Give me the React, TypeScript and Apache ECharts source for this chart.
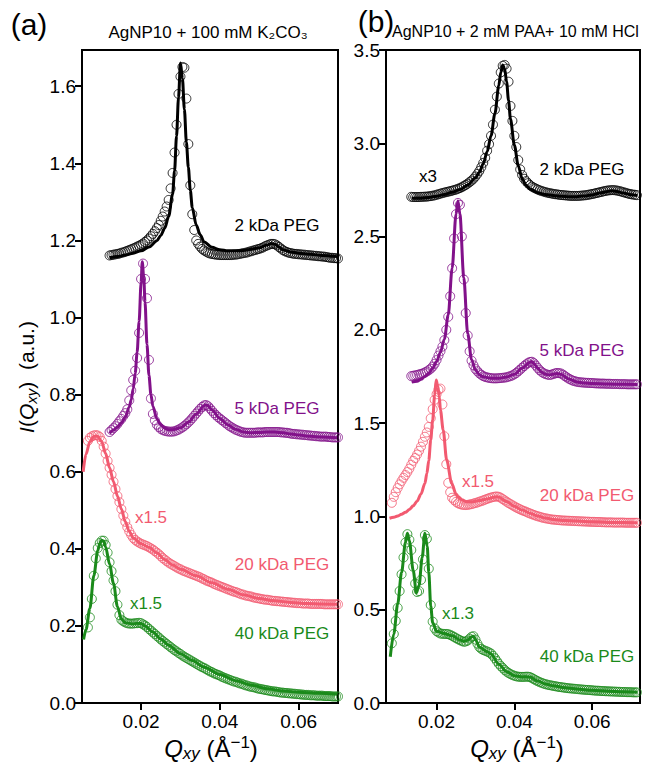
import React, { useEffect, useRef } from "react";
import * as echarts from "echarts";

const FONT = '"Liberation Sans", Arial, Helvetica, sans-serif';

const BLACK = "#000000";
const PURPLE = "#82118a";
const PINK = "#f25a70";
const GREEN = "#1a8a1a";

// Measured intensities are sampled on a uniform Q grid (step 0.0005 Å^-1);
// each series lists its first Q value and the intensities read from the figure.
const Q_STEP = 0.0005;

// ---------- Panel (a) ----------
const aXTicks = [0.02, 0.04, 0.06];
const aYTicks = [0, 0.2, 0.4, 0.6, 0.8, 1.0, 1.2, 1.4, 1.6];

const a2kStart = 0.012;
const a2kValues = [
  1.161, 1.162, 1.163, 1.164, 1.165, 1.166, 1.168, 1.169, 1.171, 1.173, 1.175, 1.177, 1.179, 1.181,
  1.184, 1.186, 1.189, 1.192, 1.196, 1.2, 1.205, 1.211, 1.217, 1.224, 1.232, 1.24, 1.251, 1.262,
  1.275, 1.288, 1.305, 1.335, 1.375, 1.428, 1.5, 1.58, 1.625, 1.65, 1.648, 1.568, 1.45, 1.343,
  1.268, 1.227, 1.2, 1.191, 1.184, 1.178, 1.174, 1.171, 1.168, 1.166, 1.165, 1.164, 1.163, 1.163,
  1.162, 1.162, 1.162, 1.162, 1.162, 1.162, 1.162, 1.163, 1.163, 1.164, 1.165, 1.166, 1.167, 1.168,
  1.169, 1.171, 1.172, 1.174, 1.175, 1.177, 1.178, 1.18, 1.182, 1.185, 1.187, 1.189, 1.191, 1.191,
  1.19, 1.187, 1.183, 1.179, 1.175, 1.172, 1.17, 1.168, 1.167, 1.166, 1.165, 1.165, 1.164, 1.164,
  1.163, 1.163, 1.162, 1.162, 1.161, 1.161, 1.16, 1.16, 1.159, 1.159, 1.158, 1.158, 1.157, 1.156,
  1.155, 1.155, 1.154, 1.154, 1.153,
];
const a2kFit = [
  [0.012, 1.155], [0.014, 1.158], [0.016, 1.162], [0.018, 1.167], [0.02, 1.173], [0.022, 1.183],
  [0.024, 1.199], [0.025, 1.213], [0.026, 1.232], [0.027, 1.262], [0.028, 1.32], [0.0285, 1.38],
  [0.029, 1.47], [0.0295, 1.57], [0.03, 1.66], [0.0305, 1.62], [0.031, 1.54], [0.0315, 1.455],
  [0.032, 1.39], [0.0325, 1.33], [0.033, 1.285], [0.034, 1.24], [0.035, 1.215], [0.036, 1.196],
  [0.038, 1.182], [0.04, 1.176], [0.042, 1.173], [0.044, 1.173], [0.046, 1.174], [0.048, 1.177],
  [0.05, 1.181], [0.052, 1.188], [0.053, 1.192], [0.054, 1.19], [0.055, 1.183], [0.056, 1.176],
  [0.058, 1.17], [0.06, 1.167], [0.063, 1.164], [0.066, 1.161], [0.0698, 1.158],
];

const a5kStart = 0.012;
const a5kValues = [
  0.703, 0.708, 0.713, 0.718, 0.724, 0.731, 0.737, 0.745, 0.752, 0.762, 0.785, 0.811, 0.838, 0.862,
  0.895, 0.96, 1.1, 1.14, 1.1, 1.05, 0.89, 0.79, 0.75, 0.733, 0.722, 0.716, 0.711, 0.708,
  0.706, 0.705, 0.704, 0.704, 0.704, 0.705, 0.707, 0.709, 0.712, 0.715, 0.719, 0.723, 0.728, 0.733,
  0.739, 0.745, 0.751, 0.757, 0.763, 0.768, 0.772, 0.773, 0.77, 0.764, 0.758, 0.752, 0.747, 0.742,
  0.738, 0.734, 0.73, 0.726, 0.722, 0.718, 0.715, 0.712, 0.709, 0.707, 0.705, 0.703, 0.702, 0.701,
  0.701, 0.701, 0.701, 0.701, 0.701, 0.702, 0.702, 0.702, 0.702, 0.703, 0.703, 0.703, 0.703, 0.703,
  0.703, 0.703, 0.703, 0.702, 0.702, 0.701, 0.701, 0.7, 0.699, 0.698, 0.698, 0.697, 0.697, 0.696,
  0.696, 0.695, 0.695, 0.694, 0.694, 0.693, 0.693, 0.692, 0.692, 0.691, 0.691, 0.691, 0.691, 0.69,
  0.69, 0.689, 0.689, 0.689, 0.689,
];
const a5kFit = [
  [0.012, 0.7], [0.013, 0.708], [0.014, 0.716], [0.015, 0.727], [0.016, 0.742], [0.017, 0.768],
  [0.0175, 0.787], [0.018, 0.815], [0.0185, 0.855], [0.019, 0.91], [0.0195, 0.99], [0.02, 1.09],
  [0.0203, 1.145], [0.0207, 1.1], [0.021, 1.04], [0.0215, 0.93], [0.022, 0.85], [0.0225, 0.8],
  [0.023, 0.77], [0.024, 0.737], [0.025, 0.722], [0.026, 0.713], [0.027, 0.709], [0.028, 0.709],
  [0.03, 0.714], [0.032, 0.728], [0.034, 0.75], [0.036, 0.771], [0.0365, 0.774], [0.037, 0.771],
  [0.038, 0.76], [0.04, 0.738], [0.042, 0.722], [0.044, 0.71], [0.046, 0.703], [0.048, 0.701],
  [0.05, 0.702], [0.052, 0.703], [0.054, 0.703], [0.056, 0.701], [0.058, 0.698], [0.06, 0.695],
  [0.063, 0.692], [0.066, 0.69], [0.0698, 0.688],
];

const a20kStart = 0.0065;
const a20kValues = [
  0.68, 0.688, 0.692, 0.694, 0.695, 0.694, 0.69, 0.68, 0.665, 0.647, 0.628, 0.61, 0.592, 0.574,
  0.555, 0.537, 0.521, 0.503, 0.486, 0.47, 0.456, 0.445, 0.436, 0.428, 0.423, 0.419, 0.416, 0.413,
  0.411, 0.409, 0.407, 0.404, 0.401, 0.398, 0.394, 0.39, 0.386, 0.381, 0.376, 0.372, 0.368, 0.364,
  0.361, 0.358, 0.355, 0.352, 0.349, 0.347, 0.344, 0.342, 0.34, 0.338, 0.336, 0.334, 0.332, 0.33,
  0.328, 0.326, 0.323, 0.321, 0.318, 0.316, 0.314, 0.312, 0.309, 0.307, 0.305, 0.303, 0.301, 0.299,
  0.297, 0.295, 0.293, 0.291, 0.289, 0.288, 0.286, 0.284, 0.282, 0.281, 0.279, 0.278, 0.277, 0.276,
  0.274, 0.273, 0.272, 0.271, 0.27, 0.269, 0.268, 0.268, 0.267, 0.266, 0.265, 0.265, 0.264, 0.264,
  0.263, 0.263, 0.262, 0.262, 0.261, 0.261, 0.26, 0.26, 0.259, 0.259, 0.259, 0.258, 0.258, 0.258,
  0.258, 0.257, 0.257, 0.257, 0.257, 0.257, 0.257, 0.257, 0.256, 0.256, 0.256, 0.256, 0.256, 0.256,
  0.256, 0.256,
];
const a20kFit = [
  [0.0053, 0.6], [0.006, 0.645], [0.007, 0.678], [0.008, 0.692], [0.009, 0.692], [0.01, 0.678],
  [0.011, 0.647], [0.012, 0.61], [0.013, 0.574], [0.014, 0.537], [0.015, 0.503], [0.016, 0.47],
  [0.017, 0.445], [0.018, 0.428], [0.02, 0.413], [0.022, 0.404], [0.024, 0.39], [0.026, 0.372],
  [0.028, 0.358], [0.03, 0.347], [0.034, 0.33], [0.038, 0.312], [0.042, 0.295], [0.046, 0.281],
  [0.05, 0.271], [0.054, 0.265], [0.058, 0.261], [0.062, 0.258], [0.066, 0.257], [0.0698, 0.256],
];

const a40kStart = 0.0065;
const a40kValues = [
  0.196, 0.222, 0.27, 0.33, 0.375, 0.402, 0.415, 0.421, 0.421, 0.41, 0.39, 0.365, 0.342, 0.318,
  0.29, 0.255, 0.228, 0.216, 0.212, 0.209, 0.207, 0.206, 0.206, 0.206, 0.207, 0.207, 0.208, 0.207,
  0.204, 0.201, 0.197, 0.192, 0.188, 0.183, 0.179, 0.174, 0.17, 0.165, 0.161, 0.157, 0.153, 0.149,
  0.145, 0.141, 0.137, 0.134, 0.13, 0.127, 0.123, 0.12, 0.117, 0.114, 0.111, 0.108, 0.105, 0.102,
  0.099, 0.096, 0.093, 0.091, 0.088, 0.085, 0.082, 0.08, 0.077, 0.075, 0.073, 0.071, 0.068, 0.066,
  0.064, 0.062, 0.06, 0.058, 0.056, 0.055, 0.053, 0.051, 0.05, 0.048, 0.046, 0.045, 0.043, 0.042,
  0.041, 0.04, 0.038, 0.037, 0.036, 0.035, 0.034, 0.033, 0.032, 0.031, 0.03, 0.03, 0.029, 0.028,
  0.027, 0.027, 0.026, 0.026, 0.025, 0.025, 0.024, 0.024, 0.023, 0.023, 0.022, 0.022, 0.021, 0.021,
  0.021, 0.02, 0.02, 0.02, 0.019, 0.019, 0.019, 0.019, 0.018, 0.018, 0.018, 0.018, 0.017, 0.017,
  0.017, 0.017,
];
const a40kFit = [
  [0.0054, 0.165], [0.006, 0.19], [0.007, 0.245], [0.008, 0.33], [0.009, 0.395], [0.0095, 0.414],
  [0.01, 0.422], [0.0105, 0.42], [0.011, 0.405], [0.012, 0.36], [0.013, 0.31], [0.014, 0.25],
  [0.015, 0.218], [0.016, 0.208], [0.018, 0.205], [0.019, 0.207], [0.02, 0.206], [0.021, 0.2],
  [0.023, 0.184], [0.025, 0.166], [0.027, 0.15], [0.03, 0.128], [0.033, 0.11], [0.036, 0.093],
  [0.04, 0.074], [0.044, 0.058], [0.048, 0.046], [0.052, 0.037], [0.056, 0.031], [0.06, 0.028],
  [0.065, 0.025], [0.0698, 0.023],
];

// ---------- Panel (b) ----------
const bXTicks = [0.02, 0.04, 0.06];
const bYTicks = [0, 0.5, 1.0, 1.5, 2.0, 2.5, 3.0, 3.5];

const b2kStart = 0.0135;
const b2kValues = [
  2.713, 2.712, 2.712, 2.712, 2.712, 2.713, 2.713, 2.714, 2.714, 2.716, 2.717, 2.719, 2.721, 2.724,
  2.727, 2.73, 2.733, 2.736, 2.738, 2.741, 2.743, 2.746, 2.749, 2.752, 2.756, 2.76, 2.765, 2.771,
  2.777, 2.784, 2.792, 2.8, 2.81, 2.822, 2.836, 2.852, 2.872, 2.895, 2.922, 2.96, 2.995, 3.04,
  3.1, 3.18, 3.25, 3.32, 3.38, 3.415, 3.42, 3.4, 3.33, 3.2, 3.12, 3.04, 2.98, 2.91,
  2.86, 2.83, 2.81, 2.797, 2.786, 2.776, 2.768, 2.762, 2.757, 2.752, 2.748, 2.744, 2.741, 2.738,
  2.735, 2.733, 2.731, 2.729, 2.727, 2.726, 2.724, 2.723, 2.722, 2.721, 2.72, 2.719, 2.718, 2.718,
  2.718, 2.718, 2.718, 2.719, 2.72, 2.721, 2.722, 2.724, 2.726, 2.728, 2.73, 2.733, 2.735, 2.738,
  2.74, 2.743, 2.745, 2.747, 2.748, 2.749, 2.749, 2.748, 2.746, 2.744, 2.741, 2.738, 2.735, 2.732,
  2.729, 2.727, 2.725, 2.724, 2.722,
];
const b2kFit = [
  [0.0136, 2.705], [0.016, 2.706], [0.018, 2.71], [0.02, 2.716], [0.022, 2.725], [0.024, 2.737],
  [0.026, 2.752], [0.028, 2.776], [0.03, 2.815], [0.031, 2.845], [0.032, 2.89], [0.033, 2.955],
  [0.034, 3.04], [0.035, 3.16], [0.036, 3.31], [0.0365, 3.38], [0.037, 3.42], [0.0375, 3.4],
  [0.038, 3.33], [0.0385, 3.23], [0.039, 3.13], [0.04, 2.99], [0.041, 2.88], [0.042, 2.81],
  [0.043, 2.775], [0.044, 2.755], [0.046, 2.735], [0.048, 2.725], [0.05, 2.72], [0.052, 2.716],
  [0.054, 2.714], [0.056, 2.714], [0.058, 2.717], [0.06, 2.723], [0.062, 2.733], [0.064, 2.742],
  [0.065, 2.745], [0.066, 2.743], [0.068, 2.733], [0.07, 2.724], [0.0716, 2.72],
];

const b5kStart = 0.0135;
const b5kValues = [
  1.752, 1.754, 1.756, 1.758, 1.761, 1.764, 1.767, 1.772, 1.777, 1.784, 1.792, 1.803, 1.818, 1.838,
  1.862, 1.885, 1.91, 1.945, 2.0, 2.07, 2.18, 2.33, 2.49, 2.62, 2.68, 2.67, 2.5, 2.27,
  2.09, 1.97, 1.885, 1.835, 1.81, 1.79, 1.778, 1.767, 1.759, 1.752, 1.748, 1.745, 1.743, 1.741,
  1.74, 1.74, 1.74, 1.741, 1.742, 1.743, 1.744, 1.746, 1.749, 1.752, 1.756, 1.762, 1.769, 1.778,
  1.787, 1.797, 1.806, 1.815, 1.822, 1.828, 1.829, 1.822, 1.809, 1.796, 1.784, 1.775, 1.768, 1.763,
  1.76, 1.758, 1.76, 1.763, 1.767, 1.769, 1.768, 1.766, 1.76, 1.752, 1.745, 1.738, 1.733, 1.728,
  1.725, 1.722, 1.72, 1.719, 1.718, 1.717, 1.716, 1.716, 1.715, 1.715, 1.714, 1.713, 1.713, 1.712,
  1.712, 1.712, 1.711, 1.711, 1.711, 1.71, 1.71, 1.71, 1.71, 1.709, 1.709, 1.709, 1.709, 1.708,
  1.708, 1.708, 1.708, 1.708, 1.708,
];
const b5kFit = [
  [0.0136, 1.72], [0.015, 1.725], [0.016, 1.735], [0.017, 1.75], [0.018, 1.768], [0.019, 1.795],
  [0.02, 1.83], [0.021, 1.88], [0.022, 1.95], [0.023, 2.08], [0.024, 2.33], [0.025, 2.62],
  [0.0255, 2.69], [0.026, 2.62], [0.027, 2.28], [0.028, 1.98], [0.029, 1.84], [0.03, 1.785],
  [0.031, 1.76], [0.032, 1.748], [0.034, 1.74], [0.036, 1.741], [0.038, 1.747], [0.04, 1.762],
  [0.042, 1.795], [0.044, 1.827], [0.0445, 1.83], [0.045, 1.82], [0.046, 1.795], [0.047, 1.773],
  [0.048, 1.762], [0.049, 1.758], [0.05, 1.762], [0.051, 1.766], [0.052, 1.762], [0.054, 1.737],
  [0.056, 1.721], [0.058, 1.715], [0.06, 1.713], [0.064, 1.71], [0.068, 1.708], [0.0716, 1.707],
];

const b20kStart = 0.0085;
const b20kValues = [
  1.073, 1.105, 1.13, 1.152, 1.172, 1.19, 1.207, 1.222, 1.238, 1.256, 1.277, 1.298, 1.313, 1.332,
  1.352, 1.374, 1.4, 1.427, 1.45, 1.48, 1.526, 1.575, 1.625, 1.655, 1.68, 1.685, 1.6, 1.43,
  1.28, 1.18, 1.13, 1.1, 1.088, 1.078, 1.071, 1.066, 1.063, 1.062, 1.061, 1.062, 1.064, 1.066,
  1.069, 1.072, 1.075, 1.079, 1.082, 1.086, 1.09, 1.094, 1.098, 1.101, 1.104, 1.106, 1.107, 1.105,
  1.1, 1.093, 1.086, 1.079, 1.072, 1.066, 1.06, 1.054, 1.048, 1.043, 1.038, 1.033, 1.029, 1.025,
  1.02, 1.016, 1.012, 1.008, 1.004, 1.001, 0.998, 0.995, 0.992, 0.99, 0.988, 0.986, 0.984, 0.983,
  0.982, 0.981, 0.98, 0.979, 0.978, 0.978, 0.977, 0.977, 0.976, 0.976, 0.975, 0.975, 0.974, 0.974,
  0.973, 0.973, 0.972, 0.972, 0.971, 0.971, 0.971, 0.97, 0.97, 0.97, 0.969, 0.969, 0.968, 0.968,
  0.968, 0.968, 0.967, 0.967, 0.967, 0.967, 0.967, 0.967, 0.966, 0.966, 0.966, 0.966, 0.966, 0.966,
  0.966,
];
const b20kFit = [
  [0.0079, 0.99], [0.009, 0.995], [0.01, 1.002], [0.011, 1.012], [0.012, 1.022], [0.013, 1.037],
  [0.014, 1.057], [0.015, 1.082], [0.016, 1.12], [0.017, 1.177], [0.0175, 1.23], [0.018, 1.3],
  [0.0185, 1.41], [0.019, 1.517], [0.0195, 1.65], [0.0199, 1.731], [0.0203, 1.7], [0.0207, 1.642],
  [0.021, 1.57], [0.0217, 1.463], [0.0226, 1.302], [0.0239, 1.177], [0.025, 1.12], [0.0256, 1.106],
  [0.0265, 1.09], [0.0277, 1.079], [0.029, 1.078], [0.031, 1.085], [0.033, 1.094], [0.035, 1.104],
  [0.0355, 1.106], [0.036, 1.104], [0.038, 1.08], [0.04, 1.055], [0.042, 1.034], [0.044, 1.017],
  [0.046, 1.002], [0.048, 0.991], [0.05, 0.984], [0.053, 0.978], [0.056, 0.975], [0.06, 0.971],
  [0.064, 0.968], [0.068, 0.967], [0.0716, 0.966],
];

const b40kStart = 0.0085;
const b40kValues = [
  0.32, 0.37, 0.44, 0.51, 0.6, 0.69, 0.78, 0.86, 0.905, 0.875, 0.82, 0.73, 0.64, 0.595,
  0.6, 0.66, 0.77, 0.9, 0.88, 0.72, 0.525, 0.436, 0.4, 0.385, 0.378, 0.372, 0.371, 0.37,
  0.37, 0.369, 0.365, 0.36, 0.354, 0.348, 0.342, 0.337, 0.332, 0.328, 0.33, 0.335, 0.345, 0.355,
  0.358, 0.34, 0.318, 0.3, 0.29, 0.284, 0.28, 0.276, 0.271, 0.265, 0.253, 0.24, 0.225, 0.21,
  0.198, 0.188, 0.177, 0.168, 0.161, 0.155, 0.15, 0.146, 0.143, 0.141, 0.14, 0.14, 0.14, 0.141,
  0.141, 0.139, 0.134, 0.128, 0.122, 0.117, 0.112, 0.108, 0.104, 0.101, 0.098, 0.096, 0.094, 0.092,
  0.09, 0.088, 0.086, 0.085, 0.083, 0.082, 0.08, 0.079, 0.078, 0.077, 0.076, 0.075, 0.074, 0.073,
  0.072, 0.071, 0.07, 0.07, 0.069, 0.068, 0.067, 0.066, 0.066, 0.065, 0.064, 0.064, 0.063, 0.063,
  0.062, 0.062, 0.061, 0.061, 0.06, 0.06, 0.059, 0.059, 0.059, 0.058, 0.058, 0.058, 0.057, 0.057,
  0.057,
];
const b40kFit = [
  [0.0081, 0.248], [0.009, 0.37], [0.01, 0.53], [0.011, 0.7], [0.012, 0.86], [0.0125, 0.91],
  [0.013, 0.87], [0.014, 0.71], [0.0148, 0.59], [0.0155, 0.63], [0.0163, 0.78], [0.017, 0.91],
  [0.0176, 0.84], [0.018, 0.7], [0.0185, 0.52], [0.019, 0.43], [0.02, 0.385], [0.022, 0.372],
  [0.024, 0.36], [0.026, 0.338], [0.027, 0.33], [0.028, 0.336], [0.029, 0.355], [0.0295, 0.358],
  [0.03, 0.34], [0.031, 0.3], [0.033, 0.275], [0.034, 0.262], [0.036, 0.208], [0.038, 0.168],
  [0.04, 0.146], [0.042, 0.14], [0.043, 0.141], [0.044, 0.139], [0.046, 0.118], [0.048, 0.102],
  [0.05, 0.092], [0.053, 0.082], [0.056, 0.075], [0.06, 0.068], [0.064, 0.063], [0.068, 0.06],
  [0.0716, 0.058],
];

function sampled(start: number, values: number[]) {
  return values.map((v, i) => [+(start + i * Q_STEP).toFixed(5), v]);
}

function scatter(data: number[][], color: string, axis: number) {
  return {
    type: "scatter",
    xAxisIndex: axis,
    yAxisIndex: axis,
    data,
    symbol: "circle",
    symbolSize: 9,
    itemStyle: { color: "rgba(0,0,0,0)", borderColor: color, borderWidth: 1 },
    silent: true,
    z: 2,
  };
}
function fit(data: number[][], color: string, axis: number) {
  return {
    type: "line",
    xAxisIndex: axis,
    yAxisIndex: axis,
    data,
    showSymbol: false,
    symbol: "none",
    smooth: 0.3,
    smoothMonotone: "x",
    lineStyle: { color, width: 3 },
    silent: true,
    z: 3,
  };
}

function xAxis(grid: number, min: number, max: number, ticks: number[]) {
  return {
    type: "value",
    gridIndex: grid,
    min,
    max,
    axisLine: { show: true, onZero: false, lineStyle: { color: "#000", width: 2 } },
    axisTick: { show: true, inside: false, length: 7, customValues: ticks, lineStyle: { color: "#000", width: 2 } },
    axisLabel: {
      customValues: ticks,
      formatter: (v: number) => v.toFixed(2),
      color: "#000",
      fontSize: 19,
      fontFamily: FONT,
      margin: 9,
    },
    splitLine: { show: false },
  };
}
function yAxis(grid: number, min: number, max: number, ticks: number[]) {
  return {
    type: "value",
    gridIndex: grid,
    min,
    max,
    axisLine: { show: true, onZero: false, lineStyle: { color: "#000", width: 2 } },
    axisTick: { show: true, inside: false, length: 7, customValues: ticks, lineStyle: { color: "#000", width: 2 } },
    axisLabel: {
      customValues: ticks,
      formatter: (v: number) => v.toFixed(1),
      color: "#000",
      fontSize: 19,
      fontFamily: FONT,
      margin: 6,
    },
    splitLine: { show: false },
  };
}

function txt(x: number, y: number, text: string, color: string, size: number, align = "center") {
  return {
    type: "text",
    x,
    y,
    silent: true,
    style: {
      text,
      fill: color,
      font: `${size}px ${FONT}`,
      fontSize: size,
      fontFamily: FONT,
      align,
      textAlign: align,
      verticalAlign: "middle",
      textVerticalAlign: "middle",
    },
  };
}

function makeRich(size: number) {
  const sub = Math.round(size * 0.72);
  return {
    n: { fontSize: size, fontFamily: FONT, lineHeight: size + 4, verticalAlign: "middle", fill: "#000", color: "#000" },
    i: { fontSize: size, fontFamily: FONT, fontStyle: "italic", lineHeight: size + 4, verticalAlign: "middle", fill: "#000", color: "#000" },
    s: { fontSize: sub, fontFamily: FONT, fontStyle: "italic", lineHeight: sub - 2, verticalAlign: "bottom", fill: "#000", color: "#000" },
    p: { fontSize: sub, fontFamily: FONT, lineHeight: sub + 2, verticalAlign: "top", fill: "#000", color: "#000" },
  };
}

function richText(x: number, y: number, text: string, size: number, rotation = 0) {
  return {
    type: "text",
    x,
    y,
    rotation,
    silent: true,
    style: {
      text,
      rich: makeRich(size),
      fill: "#000",
      align: "center",
      textAlign: "center",
      verticalAlign: "middle",
      textVerticalAlign: "middle",
    },
  };
}

export default function App() {
  const ref = useRef<HTMLDivElement>(null);
  useEffect(() => {
    if (!ref.current) return;
    const chart = echarts.init(ref.current, null, { renderer: "svg" });
    chart.setOption({
      animation: false,
      backgroundColor: "#fff",
      grid: [
        { left: 82, top: 50, width: 256, height: 653, show: true, borderColor: "#000", borderWidth: 2, backgroundColor: "transparent" },
        { left: 386, top: 50, width: 254, height: 653, show: true, borderColor: "#000", borderWidth: 2, backgroundColor: "transparent" },
      ],
      xAxis: [xAxis(0, 0.005, 0.07, aXTicks), xAxis(1, 0.007, 0.0723, bXTicks)],
      yAxis: [yAxis(0, 0, 1.694, aYTicks), yAxis(1, 0, 3.5, bYTicks)],
      series: [
        scatter(sampled(a2kStart, a2kValues), BLACK, 0),
        scatter(sampled(a5kStart, a5kValues), PURPLE, 0),
        scatter(sampled(a20kStart, a20kValues), PINK, 0),
        scatter(sampled(a40kStart, a40kValues), GREEN, 0),
        fit(a2kFit, BLACK, 0), fit(a5kFit, PURPLE, 0), fit(a20kFit, PINK, 0), fit(a40kFit, GREEN, 0),
        scatter(sampled(b2kStart, b2kValues), BLACK, 1),
        scatter(sampled(b5kStart, b5kValues), PURPLE, 1),
        scatter(sampled(b20kStart, b20kValues), PINK, 1),
        scatter(sampled(b40kStart, b40kValues), GREEN, 1),
        fit(b2kFit, BLACK, 1), fit(b5kFit, PURPLE, 1), fit(b20kFit, PINK, 1), fit(b40kFit, GREEN, 1),
      ],
      graphic: [
        txt(29, 24, "(a)", "#000", 30),
        txt(208, 32, "AgNP10 + 100 mM K₂CO₃", "#000", 17),
        txt(376, 21, "(b)", "#000", 30),
        txt(392, 31, "AgNP10 + 2 mM PAA+ 10 mM HCl", "#000", 16, "left"),
        txt(277, 225, "2 kDa PEG", BLACK, 17),
        txt(277, 408, "5 kDa PEG", PURPLE, 17),
        txt(151, 517, "x1.5", PINK, 17),
        txt(282, 564, "20 kDa PEG", PINK, 17),
        txt(146, 603, "x1.5", GREEN, 17),
        txt(282, 633, "40 kDa PEG", GREEN, 17),
        txt(428, 176, "x3", BLACK, 17),
        txt(582, 169, "2 kDa PEG", BLACK, 17),
        txt(582, 350, "5 kDa PEG", PURPLE, 17),
        txt(478, 481, "x1.5", PINK, 17),
        txt(587, 495, "20 kDa PEG", PINK, 17),
        txt(458, 613, "x1.3", GREEN, 17),
        txt(587, 656, "40 kDa PEG", GREEN, 17),
        richText(211, 748, "{i|Q}{s|xy}{n| (Å}{p|−1}{n|)}", 24),
        richText(517, 748, "{i|Q}{s|xy}{n| (Å}{p|−1}{n|)}", 24),
        richText(26, 377, "{i|I}{n|(}{i|Q}{s|xy}{n|)  (a.u.)}", 21, Math.PI / 2),
      ],
    });
    return () => chart.dispose();
  }, []);
  return <div ref={ref} style={{ position: "fixed", left: 0, top: 0, width: 652, height: 763 }} />;
}
